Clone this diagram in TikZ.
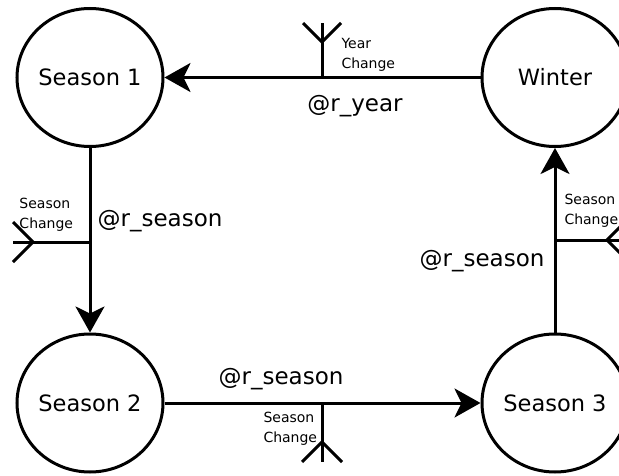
\documentclass[tikz,border=0pt]{standalone}
\usepackage{fontspec}
\setmainfont{DejaVu Sans}
\usetikzlibrary{arrows.meta,shapes.geometric}
\begin{document}
\begin{tikzpicture}[x=1pt,y=-1pt,line width=3pt,
  state/.style={draw,ellipse,minimum width=146pt,minimum height=138pt,inner sep=0pt,font=\fontsize{22.5}{26}\selectfont},
  trans/.style={-{Stealth[length=26pt,width=29pt,inset=7pt]}},
  lbl/.style={font=\fontsize{23}{26}\selectfont},
  tapnote/.style={anchor=west,align=left,inner sep=0pt,font=\fontsize{14}{19.5}\selectfont}]
\useasboundingbox (0,0) rectangle (619,476);
% states
\node[state] (s1) at (90,77.5) {Season 1};
\node[state] (w) at (555,77.5) {Winter};
\node[state] (s2) at (90,403) {Season 2};
\node[state] (s3) at (555,403) {Season 3};
% transitions
\draw[trans] (w) -- (s1);
\draw[trans] (s1) -- (s2);
\draw[trans] (s2) -- (s3);
\draw[trans] (s3) -- (w);
\node[lbl] (ly) at (355,106) {@r\_year};
\node[lbl] (l1) at (160,221) {@r\_season};
\node[lbl] (l2) at (281,379) {@r\_season};
\node[lbl] (l3) at (482,261) {@r\_season};
% taps
\coordinate (yt) at (322,77.5);
\coordinate (ye) at (322,23);
\draw (yt) -- (ye);
\draw (ye) ++(-19,0) -- ++(19,19) -- ++(19,-19);
\node[tapnote] (ny) at (340,55) {Year\\Change};
\coordinate (lt) at (90,242);
\coordinate (le) at (13,242);
\draw (lt) -- (le);
\draw (le) ++(0,-20) -- ++(20,20) -- ++(-20,20);
\node[tapnote] (nl) at (18,215) {Season\\Change};
\coordinate (rt) at (555,240);
\coordinate (re) at (627,240);
\draw (rt) -- (re);
\draw (re) ++(0,-20) -- ++(-20,20) -- ++(20,20);
\node[tapnote] (nr) at (563,211) {Season\\Change};
\coordinate (bt) at (322,403);
\coordinate (be) at (322,462);
\draw (bt) -- (be);
\draw (be) ++(-20,0) -- ++(20,-20) -- ++(20,20);
\node[tapnote] (nb) at (262,429) {Season\\Change};
\end{tikzpicture}
\end{document}
